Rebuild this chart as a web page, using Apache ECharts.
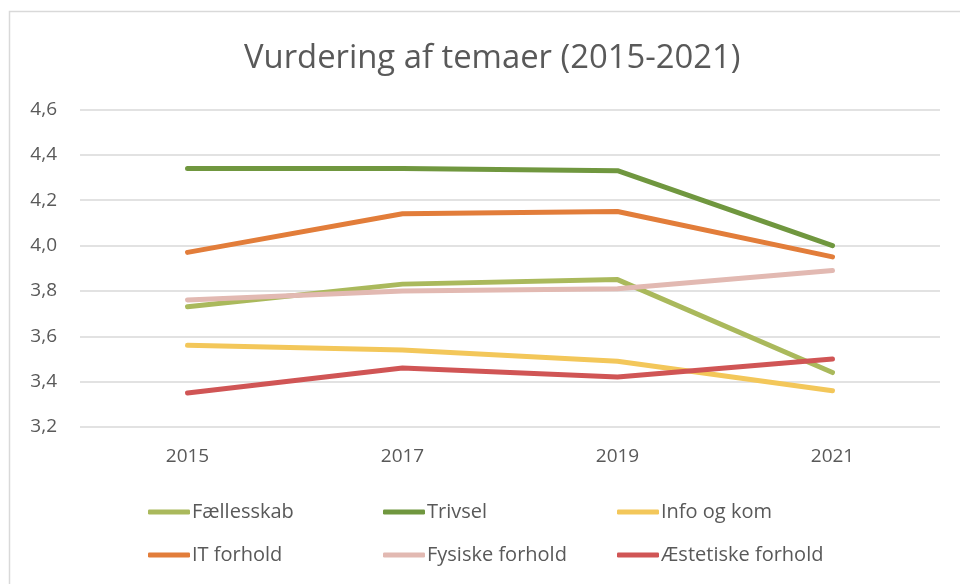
<!DOCTYPE html>
<html>
<head>
<meta charset="utf-8">
<script src="https://cdn.jsdelivr.net/npm/echarts@6/dist/echarts.min.js"></script>
<style>html,body{margin:0;padding:0;background:#fff}#c{width:960px;height:584px}</style>
</head>
<body>
<div id="c"></div>
<script>
var categories = ['2015', '2017', '2019', '2021'];
var yTicks = [3.2, 3.4, 3.6, 3.8, 4.0, 4.2, 4.4, 4.6];
var faellesskab = [3.73, 3.83, 3.85, 3.44];
var trivsel = [4.34, 4.34, 4.33, 4.00];
var infoOgKom = [3.56, 3.54, 3.49, 3.36];
var itForhold = [3.97, 4.14, 4.15, 3.95];
var fysiskeForhold = [3.76, 3.80, 3.81, 3.89];
var aestetiskeForhold = [3.35, 3.46, 3.42, 3.50];
var seriesNames = ['Fællesskab', 'Trivsel', 'Info og kom', 'IT forhold', 'Fysiske forhold', 'Æstetiske forhold'];
var seriesData = [faellesskab, trivsel, infoOgKom, itForhold, fysiskeForhold, aestetiskeForhold];
var colors = ['#AAB95C', '#70973F', '#F3C75A', '#E27D3A', '#E2B9B2', '#D05555'];

var font = '"Open Sans", "DejaVu Sans", sans-serif';
var chart = echarts.init(document.getElementById('c'), null, {renderer: 'canvas'});

function legendCol(names, left) {
  return {
    orient: 'vertical', left: left, top: 497, itemGap: 23,
    itemWidth: 42, itemHeight: 5, icon: 'roundRect',
    textStyle: {color: '#595959', fontSize: 20, fontFamily: font, padding: [0, 0, 0, -3]},
    data: names, selectedMode: false
  };
}

chart.setOption({
  animation: false,
  color: colors,
  textStyle: {fontFamily: font},
  title: {
    text: 'Vurdering af temaer (2015-2021)', left: 239, top: 37,
    textStyle: {color: '#595959', fontSize: 32.8, fontWeight: 'normal', fontFamily: font}
  },
  graphic: [{
    type: 'rect', shape: {x: 9.5, y: 11.5, width: 1000, height: 1000},
    style: {fill: 'none', stroke: '#d9d9d9', lineWidth: 1.5}, silent: true
  }],
  legend: [
    legendCol([seriesNames[0], seriesNames[3]], 143),
    legendCol([seriesNames[1], seriesNames[4]], 378),
    legendCol([seriesNames[2], seriesNames[5]], 612)
  ],
  grid: {left: 80, right: 20, top: 109.5, bottom: 157, containLabel: false},
  xAxis: {
    type: 'category', data: categories, boundaryGap: true,
    axisLine: {show: false}, axisTick: {show: false},
    axisLabel: {color: '#595959', fontSize: 19, fontFamily: font, margin: 20}
  },
  yAxis: {
    type: 'value', min: yTicks[0], max: yTicks[yTicks.length - 1], interval: 0.2,
    axisLine: {show: false}, axisTick: {show: false},
    axisLabel: {color: '#595959', fontSize: 19, fontFamily: font, margin: 23,
      formatter: function (v) { return v.toFixed(1).replace('.', ','); }},
    splitLine: {lineStyle: {color: '#d9d9d9', width: 1.5}}
  },
  series: seriesNames.map(function (n, i) {
    return {
      name: n, type: 'line', data: seriesData[i], symbol: 'none',
      lineStyle: {width: 5, cap: 'round', join: 'round', color: colors[i]},
      itemStyle: {color: colors[i]}
    };
  })
});
</script>
</body>
</html>
